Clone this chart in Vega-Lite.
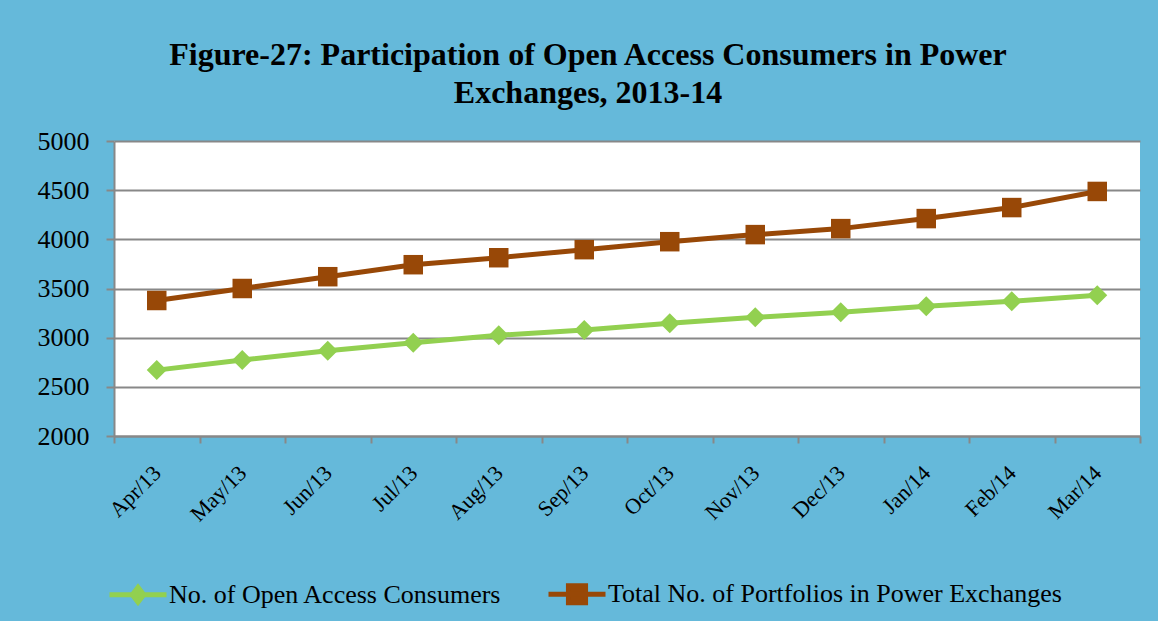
{
  "$schema": "https://vega.github.io/schema/vega-lite/v6.json",
  "width": 1026,
  "height": 295,
  "autosize": {"type": "none"},
  "padding": {"left": 114, "top": 141, "right": 18, "bottom": 185},
  "background": "#65B9DA",
  "view": {"fill": "white", "stroke": null},
  "title": {
    "text": ["Figure-27: Participation of Open Access Consumers in Power", "Exchanges, 2013-14"],
    "font": "Liberation Serif",
    "fontSize": 32,
    "fontWeight": "bold",
    "color": "black",
    "lineHeight": 38,
    "anchor": "middle",
    "dx": -39,
    "offset": 18
  },
  "config": {
    "font": "Liberation Serif"
  },
  "data": {
    "values": [
      {"month": "Apr/13", "series": "No. of Open Access Consumers", "value": 2670},
      {"month": "May/13", "series": "No. of Open Access Consumers", "value": 2772},
      {"month": "Jun/13", "series": "No. of Open Access Consumers", "value": 2867},
      {"month": "Jul/13", "series": "No. of Open Access Consumers", "value": 2949},
      {"month": "Aug/13", "series": "No. of Open Access Consumers", "value": 3024},
      {"month": "Sep/13", "series": "No. of Open Access Consumers", "value": 3078},
      {"month": "Oct/13", "series": "No. of Open Access Consumers", "value": 3146},
      {"month": "Nov/13", "series": "No. of Open Access Consumers", "value": 3207},
      {"month": "Dec/13", "series": "No. of Open Access Consumers", "value": 3258},
      {"month": "Jan/14", "series": "No. of Open Access Consumers", "value": 3320},
      {"month": "Feb/14", "series": "No. of Open Access Consumers", "value": 3371},
      {"month": "Mar/14", "series": "No. of Open Access Consumers", "value": 3432},
      {"month": "Apr/13", "series": "Total No. of Portfolios in Power Exchanges", "value": 3378},
      {"month": "May/13", "series": "Total No. of Portfolios in Power Exchanges", "value": 3500},
      {"month": "Jun/13", "series": "Total No. of Portfolios in Power Exchanges", "value": 3620},
      {"month": "Jul/13", "series": "Total No. of Portfolios in Power Exchanges", "value": 3742},
      {"month": "Aug/13", "series": "Total No. of Portfolios in Power Exchanges", "value": 3813},
      {"month": "Sep/13", "series": "Total No. of Portfolios in Power Exchanges", "value": 3895},
      {"month": "Oct/13", "series": "Total No. of Portfolios in Power Exchanges", "value": 3976},
      {"month": "Nov/13", "series": "Total No. of Portfolios in Power Exchanges", "value": 4048},
      {"month": "Dec/13", "series": "Total No. of Portfolios in Power Exchanges", "value": 4109},
      {"month": "Jan/14", "series": "Total No. of Portfolios in Power Exchanges", "value": 4211},
      {"month": "Feb/14", "series": "Total No. of Portfolios in Power Exchanges", "value": 4323},
      {"month": "Mar/14", "series": "Total No. of Portfolios in Power Exchanges", "value": 4487}
    ]
  },
  "encoding": {
    "x": {
      "field": "month",
      "type": "ordinal",
      "sort": null,
      "scale": {"type": "band", "paddingInner": 0, "paddingOuter": 0},
      "axis": {
        "title": null,
        "tickBand": "extent",
        "grid": false,
        "domainColor": "#888888",
        "domainWidth": 2,
        "tickColor": "#888888",
        "tickWidth": 2,
        "tickSize": 7,
        "labelAngle": -45,
        "labelAlign": "right",
        "labelBaseline": "middle",
        "labelFont": "Liberation Serif",
        "labelFontSize": 22,
        "labelColor": "black",
        "labelPadding": 26
      }
    },
    "y": {
      "field": "value",
      "type": "quantitative",
      "scale": {"domain": [2000, 5000], "nice": false, "zero": false},
      "axis": {
        "title": null,
        "values": [2000, 2500, 3000, 3500, 4000, 4500, 5000],
        "format": "d",
        "grid": true,
        "gridColor": "#888888",
        "gridWidth": 2,
        "domainColor": "#888888",
        "domainWidth": 2,
        "tickColor": "#888888",
        "tickWidth": 2,
        "tickSize": 8,
        "labelFont": "Liberation Serif",
        "labelFontSize": 26,
        "labelColor": "black",
        "labelPadding": 17
      }
    },
    "color": {
      "field": "series",
      "type": "nominal",
      "scale": {
        "domain": ["No. of Open Access Consumers", "Total No. of Portfolios in Power Exchanges"],
        "range": ["#92D050", "#984807"]
      },
      "legend": {
        "title": null,
        "orient": "none",
        "legendX": -7,
        "legendY": 422,
        "direction": "horizontal",
        "labelFont": "Liberation Serif",
        "labelFontSize": 26,
        "labelColor": "black",
        "labelLimit": 700,
        "symbolSize": 3249,
        "symbolStrokeWidth": 5,
        "columnPadding": 36,
        "labelOffset": 0,
        "encode": {
          "symbols": {
            "update": {
              "shape": {"signal": "datum.value === 'No. of Open Access Consumers' ? 'M-1,0H1M0,-0.26L0.2,0L0,0.26L-0.2,0Z' : 'M-1,0H1M-0.3,-0.3H0.3V0.3H-0.3Z'"},
              "fill": {"scale": "color", "field": "value"},
              "stroke": {"scale": "color", "field": "value"},
              "strokeWidth": {"value": 5},
              "opacity": {"value": 1}
            }
          }
        }
      }
    }
  },
  "layer": [
    {
      "mark": {"type": "line", "strokeWidth": 5}
    },
    {
      "transform": [{"filter": "datum.series === 'No. of Open Access Consumers'"}],
      "mark": {"type": "point", "filled": true, "opacity": 1, "size": 400, "shape": "diamond"}
    },
    {
      "transform": [{"filter": "datum.series === 'Total No. of Portfolios in Power Exchanges'"}],
      "mark": {"type": "point", "filled": true, "opacity": 1, "size": 380, "shape": "square"}
    }
  ]
}
